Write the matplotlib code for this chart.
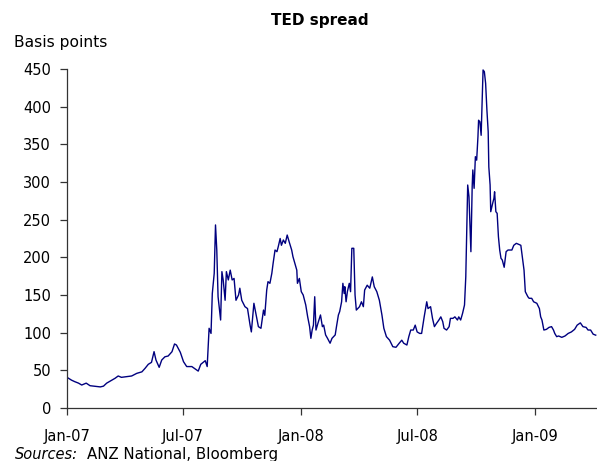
import matplotlib
matplotlib.use("Agg")
import matplotlib.pyplot as plt
import matplotlib.dates as mdates
import numpy as np
import datetime as dt

title = "TED spread"
ylabel = "Basis points"
source_note = "ANZ National, Bloomberg"
start_date = dt.date(2007, 1, 1)
end_date = dt.date(2009, 4, 8)

# days since 1 Jan 2007 and TED spread (basis points)
day_offsets = [
    0, 7, 12, 18, 23, 30, 36, 44, 52, 57, 62, 70, 75, 80, 85, 93, 101, 109, 117, 122,
    127, 132, 136, 139, 144, 148, 153, 158, 164, 168, 171, 177, 182, 187, 195, 205, 209, 216, 219, 222,
    225, 227, 230, 232, 234, 236, 240, 242, 244, 247, 249, 252, 255, 258, 261, 264, 268, 270, 273, 278,
    282, 286, 288, 292, 295, 299, 303, 307, 309, 312, 314, 317, 320, 322, 325, 328, 330, 333, 335, 338,
    341, 344, 347, 351, 353, 356, 359, 360, 363, 366, 369, 373, 376, 379, 381, 383, 385, 387, 389, 392,
    396, 399, 401, 404, 407, 411, 414, 419, 421, 424, 426, 429, 431, 433, 434, 436, 438, 441, 443, 445,
    448, 450, 452, 457, 460, 463, 465, 469, 473, 477, 480, 484, 488, 492, 495, 499, 504, 509, 514, 519,
    523, 526, 531, 534, 537, 541, 544, 547, 551, 554, 558, 562, 564, 568, 571, 574, 577, 581, 584, 587,
    589, 593, 597, 599, 603, 606, 610, 612, 615, 618, 621, 623, 626, 628, 631, 633, 634, 636, 638, 640,
    642, 643, 645, 647, 649, 650, 652, 654, 656, 658, 659, 661, 662, 665, 667, 668, 670, 672, 674, 676,
    678, 680, 683, 686, 689, 695, 698, 702, 709, 712, 714, 716, 720, 722, 726, 729, 734, 738, 740, 742,
    745, 749, 753, 757, 760, 762, 765, 768, 773, 778, 783, 788, 793, 797, 802, 806, 811, 814, 818, 822,
    826,
]
ted_spread = [
    40.7, 37, 35, 33, 30.5, 33, 29.6, 28.8, 28, 29, 33, 37, 39.4, 42.5, 40.7, 41.6, 42.5, 46, 48, 52.7,
    58, 60.6, 74.8, 63.7, 54, 63.7, 68, 69, 74.7, 85, 83.6, 74, 61.5, 55, 55, 49, 58, 62.8, 55, 105.8,
    99, 152, 178.8, 243, 209.7, 147.7, 116.8, 181, 170, 143, 181, 170, 183, 170, 172, 143, 150, 159, 143, 134.5,
    132, 110, 101, 139, 125.7, 108, 105.8, 130, 123, 156.6, 167.7, 165.5, 178.8, 192, 209.7, 207.5, 214, 225, 216, 223,
    218.6, 229.6, 220.8, 209.7, 200.9, 192, 183, 165.5, 172, 154.4, 150, 136.7, 121, 108, 92.5, 103.5, 110, 147.7, 103.5, 112.4,
    123.5, 108, 110, 97, 92.5, 86, 92.5, 97, 108, 123.5, 128, 141, 165.5, 152, 161, 141, 154.4, 165.5, 154.4, 212,
    212, 150, 130, 134.5, 141, 134.5, 156.6, 163, 159, 174, 161, 154.4, 143, 123.5, 105.8, 94.7, 90, 81.4, 80.6, 86,
    90, 86, 83.6, 94.7, 103.5, 103.5, 110, 101, 99, 99, 121, 141, 132, 134.5, 119, 108, 112, 116.8, 121, 114.6,
    105.8, 103.5, 108, 119, 119, 121, 116.8, 121, 116.8, 125.7, 136.7, 174, 296, 280.5, 207.5, 293.8, 316, 291.6, 333.6, 329,
    360, 382, 380, 362, 417.8, 448.7, 446.5, 431, 395.6, 366.8, 320, 296, 260.6, 271.7, 278.4, 287, 260.6, 258.4, 227.4, 209.7,
    198.7, 196.5, 186.8, 207.5, 209.7, 209.7, 216, 218.6, 216, 196.5, 183, 154.4, 147.7, 145.6, 145.6, 141, 139, 132, 121, 116.8,
    103.5, 104.4, 107, 108, 103.5, 99, 94.7, 95.6, 93.8, 95.6, 99, 101, 104.4, 110, 113, 108, 107, 103.5, 103.5, 98,
    96.7,
]
y_ticks = [0, 50, 100, 150, 200, 250, 300, 350, 400, 450]
x_tick_dates = [dt.date(2007, 1, 1), dt.date(2007, 7, 1), dt.date(2008, 1, 1),
                dt.date(2008, 7, 1), dt.date(2009, 1, 1)]

dates = [start_date + dt.timedelta(days=d) for d in day_offsets]

W, H = 597, 461
fig = plt.figure(figsize=(W / 100, H / 100), dpi=100)
ax = fig.add_axes([67 / W, (H - 408) / H, (597 - 67) / W, (408 - 69) / H])

ax.plot(dates, ted_spread, color="#00007f", lw=1.0)

ax.set_xlim(start_date, end_date)
ax.set_ylim(0, 450)
ax.set_yticks(y_ticks)
ax.set_xticks(x_tick_dates)
ax.xaxis.set_major_formatter(mdates.DateFormatter("%b-%y"))

for s in ["top", "right"]:
    ax.spines[s].set_visible(False)
for s in ["left", "bottom"]:
    ax.spines[s].set_color("#333333")
    ax.spines[s].set_linewidth(0.9)

ax.tick_params(axis="both", direction="out", length=5, width=0.9, color="#333333",
               labelsize=10.5, labelcolor="black")
ax.tick_params(axis="y", pad=6.5)
ax.tick_params(axis="x", pad=10)

fig.text(320 / W, 1 - 20 / H, title, ha="center", va="center", fontsize=11, fontweight="bold")
fig.text(14 / W, 1 - 42 / H, ylabel, ha="left", va="center", fontsize=11.2)
fig.text(15 / W, 1 - 454 / H, "Sources:", ha="left", va="center", fontsize=10.5, style="italic")
fig.text(87 / W, 1 - 454 / H, source_note, ha="left", va="center", fontsize=10.8)

fig.savefig("out.png", dpi=100)
